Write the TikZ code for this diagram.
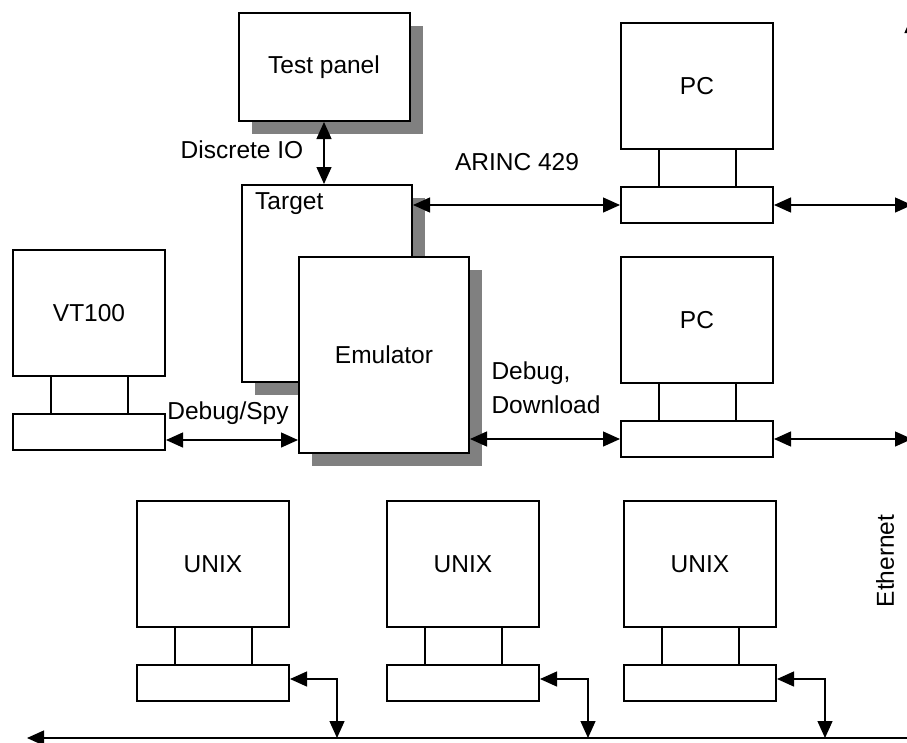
\documentclass[tikz,border=0pt]{standalone}
\usepackage{fontspec}
\setmainfont{Liberation Sans}
\usetikzlibrary{positioning,shadows,arrows.meta}

\begin{document}
\begin{tikzpicture}[x=1pt,y=-1pt,font=\fontsize{24.5}{34}\selectfont,
  box/.style={draw, shape=rectangle, line width=2pt, fill=white, inner sep=0pt,
    drop shadow={shadow xshift=13pt, shadow yshift=-13pt, fill=black!50, opacity=1}},
  screen/.style={draw, shape=rectangle, line width=2pt, fill=white, inner sep=0pt,
    minimum width=152pt, minimum height=126pt},
  stand/.style={draw, shape=rectangle, line width=2pt, inner sep=0pt,
    minimum width=152pt, minimum height=36pt, below=36pt of #1},
  neck/.style={line width=2.8pt},
  link/.style={line width=1.3pt, {Triangle[length=17pt,width=15pt]}-{Triangle[length=17pt,width=15pt]}}]
\useasboundingbox (0,0) rectangle (907,742);
\clip (0,0) rectangle (907,742);

% boards
\draw (324,67) node[box, minimum width=171pt, minimum height=108pt] (tp) {Test panel};
\draw (327,283.5) node[box, minimum width=170pt, minimum height=197pt] (tgt) {};
\node[anchor=north west, inner sep=0pt] (tgtlbl) at (255,192) {Target};
\draw (384,355) node[box, minimum width=170pt, minimum height=196pt] (emu) {Emulator};

% terminals
\draw (89,313) node[screen] (vtscr) {VT100};
\node[stand=vtscr] (vtbase) {};
\draw[neck] ([xshift=39pt]vtscr.south west) -- ([xshift=39pt]vtbase.north west);
\draw[neck] ([xshift=-38pt]vtscr.south east) -- ([xshift=-38pt]vtbase.north east);

\draw (697,86) node[screen] (pc1scr) {PC};
\node[stand=pc1scr] (pc1base) {};
\draw[neck] ([xshift=39pt]pc1scr.south west) -- ([xshift=39pt]pc1base.north west);
\draw[neck] ([xshift=-38pt]pc1scr.south east) -- ([xshift=-38pt]pc1base.north east);

\draw (697,320) node[screen] (pc2scr) {PC};
\node[stand=pc2scr] (pc2base) {};
\draw[neck] ([xshift=39pt]pc2scr.south west) -- ([xshift=39pt]pc2base.north west);
\draw[neck] ([xshift=-38pt]pc2scr.south east) -- ([xshift=-38pt]pc2base.north east);

\draw (213,564) node[screen] (ux1scr) {UNIX};
\node[stand=ux1scr] (ux1base) {};
\draw[neck] ([xshift=39pt]ux1scr.south west) -- ([xshift=39pt]ux1base.north west);
\draw[neck] ([xshift=-38pt]ux1scr.south east) -- ([xshift=-38pt]ux1base.north east);

\draw (463,564) node[screen] (ux2scr) {UNIX};
\node[stand=ux2scr] (ux2base) {};
\draw[neck] ([xshift=39pt]ux2scr.south west) -- ([xshift=39pt]ux2base.north west);
\draw[neck] ([xshift=-38pt]ux2scr.south east) -- ([xshift=-38pt]ux2base.north east);

\draw (700,564) node[screen] (ux3scr) {UNIX};
\node[stand=ux3scr] (ux3base) {};
\draw[neck] ([xshift=39pt]ux3scr.south west) -- ([xshift=39pt]ux3base.north west);
\draw[neck] ([xshift=-38pt]ux3scr.south east) -- ([xshift=-38pt]ux3base.north east);

% ethernet
\coordinate (ethtop) at (912,16);
\coordinate (ethcorner) at (912,738);
\coordinate (ethend) at (27,738);
\draw[link] (ethtop) -- (ethcorner) -- (ethend);
\node[rotate=90] (ethlbl) at (885,561) {Ethernet};

% links
\draw[link] (tp.south) -- (tp.south |- tgt.north);
\draw[link] (tgt.east |- pc1base.west) -- (pc1base.west);
\draw[link] (pc1base.east) -- (pc1base.east -| ethtop);
\draw[link] ([yshift=-8pt]vtbase.east) -- ([yshift=-8pt]vtbase.east -| emu.west);
\draw[link] (emu.east |- pc2base.west) -- (pc2base.west);
\draw[link] (pc2base.east) -- (pc2base.east -| ethtop);
\draw[link] ([yshift=4pt]ux1base.east) -| ([xshift=47pt]ux1base.east |- ethend);
\draw[link] ([yshift=4pt]ux2base.east) -| ([xshift=48pt]ux2base.east |- ethend);
\draw[link] ([yshift=4pt]ux3base.east) -| ([xshift=48pt]ux3base.east |- ethend);

\node (dio) at (242,150) {Discrete IO};
\node (arinc) at (517,162) {ARINC 429};
\node (dspy) at (228,413) {Debug/Spy};
\node[align=left, anchor=west] (ddl) at (488,388) {Debug,\\Download};
\end{tikzpicture}
\end{document}
